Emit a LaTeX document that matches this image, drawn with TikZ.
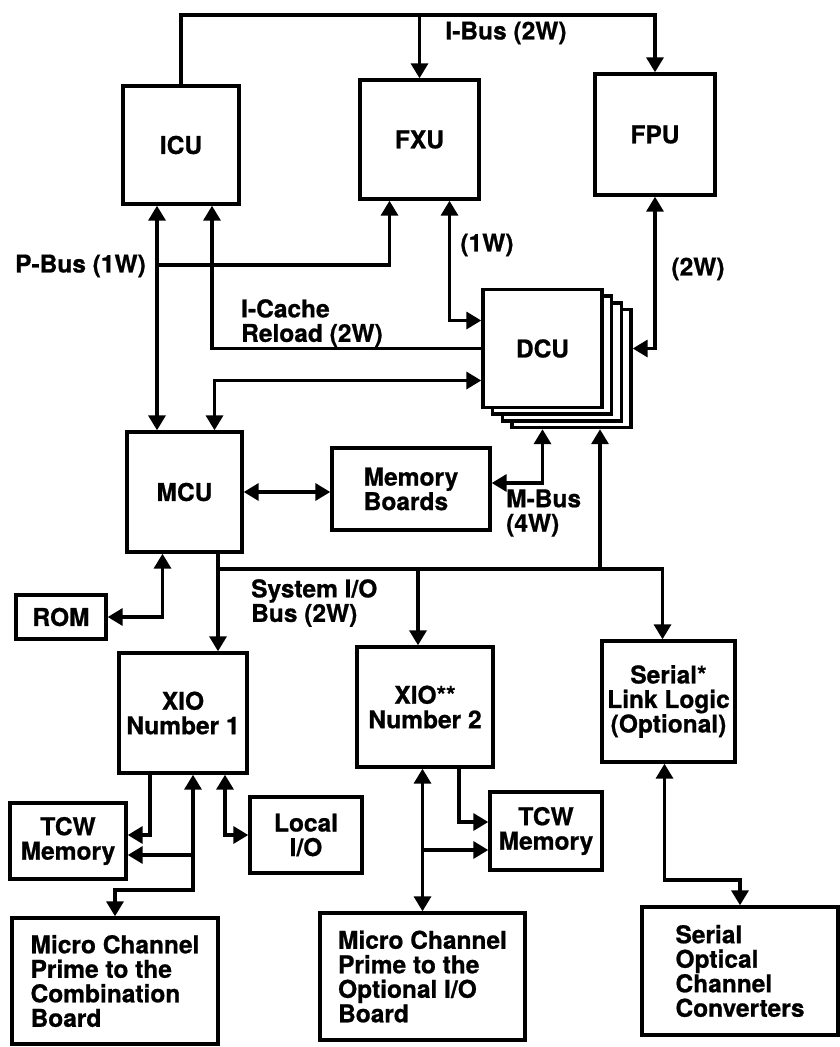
\documentclass[tikz,border=0pt]{standalone}
\usepackage{fontspec}
\setmainfont{TeX Gyre Heros}[BoldFeatures={FakeBold=0.8}]
\usetikzlibrary{arrows.meta}
\newcommand\dgfont{\bfseries\fontsize{24.5}{24.5}\selectfont}
\begin{document}
\begin{tikzpicture}[x=1pt,y=-1pt,
  box/.style={draw, line width=3.4pt, fill=white, inner sep=0pt, align=center, font=\dgfont},
  lbl/.style={inner sep=0pt, align=left, font=\dgfont},
  conn/.style={line width=3.4pt},
  arr/.style={conn, -{Triangle[width=17pt,length=15pt]}},
  darr/.style={conn, {Triangle[width=17pt,length=15pt]}-{Triangle[width=17pt,length=15pt]}}]
\useasboundingbox (0,0) rectangle (839,1047);
\fill[white] (0,0) rectangle (839,1047);

% boxes
\node[box, minimum width=116pt, minimum height=118pt] (icu) at (181,145) {ICU};
\node[box, minimum width=119pt, minimum height=119pt] (fxu) at (419.5,139.5) {FXU};
\node[box, minimum width=120pt, minimum height=121pt] (fpu) at (655,134.5) {FPU};
\node[box, minimum width=119pt, minimum height=118pt] (dcub3) at (571.5,368.5) {};
\node[box, minimum width=119pt, minimum height=118pt] (dcub2) at (562,362) {};
\node[box, minimum width=119pt, minimum height=118pt] (dcub1) at (552,355) {};
\node[box, minimum width=119pt, minimum height=118pt] (dcu) at (542.5,348.5) {DCU};
\node[box, minimum width=115pt, minimum height=120pt] (mcu) at (184.5,492) {MCU};
\node[box, minimum width=158pt, minimum height=82pt, align=left] (mem) at (411,489) {Memory\\Boards};
\node[box, minimum width=90pt, minimum height=44pt] (rom) at (61,617) {ROM};
\node[box, minimum width=128pt, minimum height=120pt] (xio1) at (183,713) {XIO\\Number 1};
\node[box, minimum width=136pt, minimum height=120pt] (xio2) at (425,707) {XIO**\\Number 2};
\node[box, minimum width=133pt, minimum height=121pt] (ser) at (668.5,701.5) {Serial*\\Link Logic\\(Optional)};
\node[box, minimum width=116pt, minimum height=76pt] (tcw1) at (68,841) {TCW\\Memory};
\node[box, minimum width=112pt, minimum height=76pt] (lio) at (306,835) {Local\\I/O};
\node[box, minimum width=112pt, minimum height=78pt] (tcw2) at (546,831) {TCW\\Memory};
\node[box, minimum width=206pt, minimum height=126pt, align=left] (mc1) at (115,981) {Micro Channel\\Prime to the\\Combination\\Board};
\node[box, minimum width=205pt, minimum height=127pt, align=left] (mc2) at (422.5,976.5) {Micro Channel\\Prime to the\\Optional I/O\\Board};
\node[box, minimum width=196pt, minimum height=128pt, align=left] (soc) at (740,971) {Serial\\Optical\\Channel\\Converters};

% I-Bus
\coordinate (ibus) at (400,15);
\draw[arr] (icu.north) |- (ibus) -| (fpu.north);
\draw[arr] (ibus -| fxu.north) -- (fxu.north);
\node[lbl] (ibusl) at (506,33) {I-Bus (2W)};

% P-Bus
\coordinate (pbx) at (157,265);
\draw[darr] (pbx |- icu.south) -- (pbx |- mcu.north);
\draw[arr] (pbx) -| ([xshift=-30pt]fxu.south);
\node[lbl, anchor=east] (pbusl) at (146,266) {P-Bus (1W)};

% I-Cache reload
\draw[arr] (dcu.west) -| ([xshift=31pt]icu.south);
\node[lbl, anchor=west] (icl) at (241,323) {I-Cache\\Reload (2W)};

% FXU - DCU
\draw[darr] ([xshift=30pt]fxu.south) |- ([yshift=28pt]dcu.west);
\node[lbl] (w1) at (487,245) {(1W)};

% FPU - DCU
\draw[darr] (fpu.south) |- (dcu.east -| dcub3.east);
\node[lbl] (w2) at (698,269) {(2W)};

% DCU - MCU
\draw[darr] ([yshift=-32pt]dcu.west) -| ([xshift=30pt]mcu.north);

% MCU - Memory
\draw[darr] (mcu.east) -- (mcu.east -| mem.west);

% M-Bus
\draw[darr] ([yshift=6pt]mem.east) -| (dcub3.south -| dcu.south);
\node[lbl, anchor=west] (mbl) at (506,513) {M-Bus\\(4W)};

% System I/O bus
\coordinate (sio) at (218,569);
\coordinate (siod) at (600,569);
\draw[arr] (sio |- mcu.south) -- (sio |- xio1.north);
\draw[arr] (sio) -| ([xshift=-6pt]ser.north);
\draw[arr] (sio -| xio2.north) ++(-7pt,0) coordinate (sx2) -- (sx2 |- xio2.north);
\draw[arr] (siod) -- (siod |- dcub3.south);
\node[lbl, anchor=west] (siol) at (251,603) {System I/O\\Bus (2W)};

% ROM
\draw[darr] ([xshift=-22pt]mcu.south) |- (rom.east);

% XIO 1
\coordinate (j1) at (193,855);
\coordinate (j2) at (193,890);
\draw[arr] ([xshift=-33pt]xio1.south) |- ([yshift=6pt]tcw1.east);
\draw[darr] (j2 |- xio1.south) -- (j2) -| (mc1.north);
\draw[arr] (j1) -- (j1 -| tcw1.east);
\draw[darr] ([xshift=42pt]xio1.south) |- (lio.west);

% XIO 2
\coordinate (j3) at (422,850);
\draw[darr] (xio2.south -| mc2.north) -- (mc2.north);
\draw[arr] (j3) -- (j3 -| tcw2.west);
\draw[arr] ([xshift=34pt]xio2.south) |- ([yshift=9pt]tcw2.west);

% Serial link
\coordinate (j4) at (700,880);
\draw[darr] ([xshift=-4pt]ser.south) |- (j4) -| (soc.north);
\end{tikzpicture}
\end{document}
